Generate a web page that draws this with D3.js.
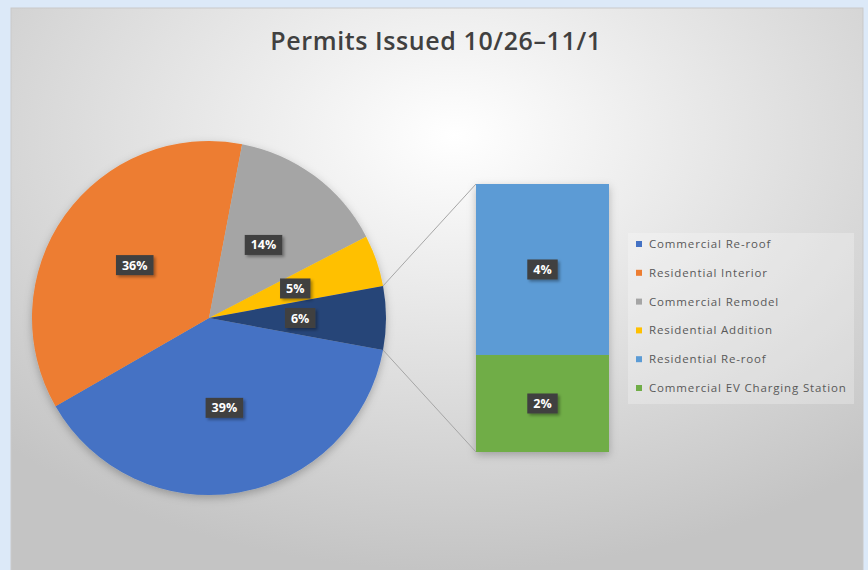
<!DOCTYPE html>
<html>
<head>
<meta charset="utf-8">
<script src="https://cdn.jsdelivr.net/npm/d3@7"></script>
<style>
  html, body { margin: 0; padding: 0; background: #dce9f8; }
  svg { display: block; }
</style>
</head>
<body>
<svg id="chart" width="868" height="570"></svg>
<script>
// values (share of permits, %)
var categories = ["Commercial Re-roof", "Residential Interior", "Commercial Remodel",
                  "Residential Addition", "Residential Re-roof", "Commercial EV Charging Station"];
var shares = [38.8, 36.3, 14.4, 4.7, 3.7, 2.1];
var colors = ["#4472C4", "#ED7D31", "#A5A5A5", "#FFC000", "#5B9BD5", "#70AD47"];
var otherColor = "#264478";
var pieCount = 4; // first four in the pie, the rest go to the bar

var width = 868, height = 570;
var svg = d3.select("#chart");

var defs = svg.append("defs");
var grad = defs.append("radialGradient").attr("id", "bg")
    .attr("cx", "52%").attr("cy", "22%").attr("r", "75%");
grad.append("stop").attr("offset", "0%").attr("stop-color", "#ffffff");
grad.append("stop").attr("offset", "100%").attr("stop-color", "#c4c4c4");

var shadow = defs.append("filter").attr("id", "shadow")
    .attr("x", "-20%").attr("y", "-20%").attr("width", "140%").attr("height", "140%");
shadow.append("feDropShadow").attr("dx", 0).attr("dy", 3).attr("stdDeviation", 4)
    .attr("flood-color", "#000").attr("flood-opacity", 0.25);

var lblShadow = defs.append("filter").attr("id", "lblshadow")
    .attr("x", "-30%").attr("y", "-30%").attr("width", "170%").attr("height", "170%");
lblShadow.append("feDropShadow").attr("dx", 2).attr("dy", 2).attr("stdDeviation", 1.5)
    .attr("flood-color", "#000").attr("flood-opacity", 0.35);

// chart area
svg.append("rect")
    .attr("x", 11).attr("y", 8).attr("width", 852).attr("height", 580)
    .attr("fill", "url(#bg)")
    .attr("stroke", "#c9c9c9").attr("stroke-width", 1);

// title
svg.append("text")
    .attr("x", 436).attr("y", 49.5)
    .attr("text-anchor", "middle")
    .style("font-family", "'Open Sans', sans-serif")
    .style("font-size", "25px")
    .style("font-weight", "600")
    .style("letter-spacing", "0.6px")
    .style("fill", "#404040")
    .text("Permits Issued 10/26\u201311/1");

// pie data: first slices + "other"
var pieVals = shares.slice(0, pieCount);
var barVals = shares.slice(pieCount);
var otherVal = d3.sum(barVals);
var pieData = pieVals.map(function(v, i) { return {value: v, color: colors[i]}; });
pieData.push({value: otherVal, color: otherColor});

var total = d3.sum(pieData, function(d) { return d.value; });
var otherAngle = otherVal / total * 2 * Math.PI;
var start = Math.PI / 2 + otherAngle / 2;

var cx = 209, cy = 318, radius = 177;

var pie = d3.pie().sort(null)
    .startAngle(start).endAngle(start + 2 * Math.PI)
    .value(function(d) { return d.value; });
var arcs = pie(pieData);

var arc = d3.arc().innerRadius(0).outerRadius(radius);
var labelArc = d3.arc().innerRadius(radius * 0.515).outerRadius(radius * 0.515);

var gPie = svg.append("g").attr("transform", "translate(" + cx + "," + cy + ")");
gPie.append("g").attr("filter", "url(#shadow)")
    .selectAll("path")
    .data(arcs)
    .enter()
    .append("path")
    .attr("fill", function(d) { return d.data.color; })
    .attr("d", arc);

// bar of the "other" slice
var barX = 476, barW = 133, barTop = 184, barBottom = 452;
var y = d3.scaleLinear().domain([0, otherVal]).range([barTop, barBottom]);
var cum = 0;
var barData = barVals.map(function(v, i) {
    var d = {value: v, y0: cum, y1: cum + v, color: colors[pieCount + i]};
    cum += v;
    return d;
});

var gBar = svg.append("g").attr("filter", "url(#shadow)");
gBar.selectAll("rect")
    .data(barData)
    .enter()
    .append("rect")
    .attr("x", barX).attr("width", barW)
    .attr("y", function(d) { return y(d.y0); })
    .attr("height", function(d) { return y(d.y1) - y(d.y0); })
    .attr("fill", function(d) { return d.color; });

// connector lines from the other slice to the bar
var otherArc = arcs[arcs.length - 1];
function edgePoint(a) {
    return [cx + radius * Math.sin(a), cy - radius * Math.cos(a)];
}
var p1 = edgePoint(otherArc.startAngle), p2 = edgePoint(otherArc.endAngle);
svg.append("line")
    .attr("x1", p1[0]).attr("y1", p1[1]).attr("x2", barX).attr("y2", y(0))
    .attr("stroke", "#a6a6a6").attr("stroke-width", 1);
svg.append("line")
    .attr("x1", p2[0]).attr("y1", p2[1]).attr("x2", barX).attr("y2", y(otherVal))
    .attr("stroke", "#a6a6a6").attr("stroke-width", 1);

// data labels
function drawLabel(x0, y0, txt) {
    var g = svg.append("g").attr("transform", "translate(" + x0 + "," + y0 + ")");
    var t = g.append("text")
        .attr("text-anchor", "middle")
        .attr("dy", "0.36em")
        .style("font-family", "'Open Sans', sans-serif")
        .style("font-weight", "bold")
        .style("font-size", "12.5px")
        .style("fill", "#ffffff")
        .text(txt);
    var w = t.node().getComputedTextLength() + 12;
    g.insert("rect", "text")
        .attr("x", -w / 2).attr("y", -10)
        .attr("width", w).attr("height", 20)
        .attr("fill", "#404040")
        .attr("filter", "url(#lblshadow)");
}

arcs.forEach(function(d) {
    var c = labelArc.centroid(d);
    drawLabel(cx + c[0], cy + c[1], Math.round(d.data.value / total * 100) + "%");
});
barData.forEach(function(d) {
    drawLabel(barX + barW / 2, (y(d.y0) + y(d.y1)) / 2, Math.round(d.value / total * 100) + "%");
});

// legend
var legX = 628, legY = 233, legW = 226, legH = 171, rowH = 28.8;
svg.append("rect")
    .attr("x", legX).attr("y", legY).attr("width", legW).attr("height", legH)
    .attr("fill", "#ffffff").attr("fill-opacity", 0.25);

var leg = svg.append("g").selectAll("g")
    .data(categories)
    .enter()
    .append("g")
    .attr("transform", function(d, i) { return "translate(" + (legX + 8) + "," + (legY + 11 + i * rowH) + ")"; });
leg.append("rect")
    .attr("x", 0).attr("y", -3).attr("width", 6).attr("height", 6)
    .attr("fill", function(d, i) { return colors[i]; });
leg.append("text")
    .attr("x", 13).attr("dy", "0.35em")
    .style("font-family", "'Open Sans', sans-serif")
    .style("font-size", "11.5px")
    .style("letter-spacing", "0.85px")
    .style("fill", "#595959")
    .text(function(d) { return d; });
</script>
</body>
</html>
